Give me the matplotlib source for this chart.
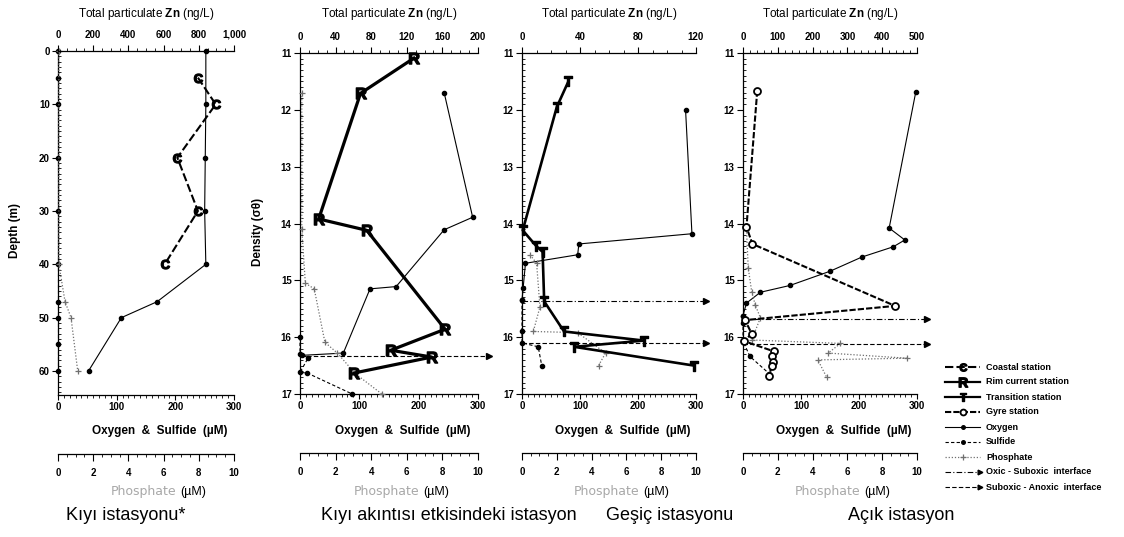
import matplotlib
matplotlib.use("Agg")
import matplotlib.pyplot as plt
from matplotlib.ticker import MultipleLocator, FuncFormatter

plt.rcParams['font.family'] = ['Liberation Sans', 'DejaVu Sans']
plt.rcParams['font.weight'] = 'bold'
plt.rcParams['mathtext.fontset'] = 'custom'
plt.rcParams['mathtext.rm'] = 'Liberation Sans'
plt.rcParams['mathtext.bf'] = 'Liberation Sans:bold'
plt.rcParams['axes.linewidth'] = 0.9

W, H = 1124, 537

# ---- data ----
# Coastal station, y = depth (m)
coastal_zn_depth = [5, 10, 20, 30, 40]
coastal_zn = [795, 896, 678, 795, 606]
coastal_o2_depth = [0, 10, 20, 30, 40, 47, 50, 60]
coastal_o2 = [252, 252, 251, 250, 252, 169, 108, 52]
coastal_h2s_depth = [0, 5, 10, 20, 30, 40, 47, 50, 55, 60]
coastal_h2s = [0, 0, 0, 0, 0, 0, 0, 0, 0, 0]
coastal_po4_depth = [0, 40, 47, 50, 60]
coastal_po4 = [0.05, 0.05, 0.4, 0.74, 1.12]

# Rim current station, y = density (sigma-theta)
rim_zn_dens = [11.09, 11.71, 13.92, 14.12, 15.86, 16.23, 16.35, 16.63]
rim_zn = [128, 68, 21, 75, 163, 102, 148, 61]
rim_o2_dens = [11.70, 13.89, 14.11, 15.11, 15.15, 16.28, 16.32]
rim_o2 = [243, 291, 243, 162, 118, 73, 3]
rim_h2s_dens = [16.0, 16.30, 16.36, 16.62, 16.63, 17.0]
rim_h2s = [0, 0, 14, 0, 12, 88]
rim_po4_dens = [11.7, 14.1, 15.05, 15.15, 16.09, 16.28, 16.64, 17.0]
rim_po4 = [0.1, 0.1, 0.3, 0.8, 1.4, 2.1, 3.1, 4.6]
rim_oxic, rim_anoxic = None, 16.34

# Transition station
trans_zn_dens = [11.50, 11.95, 14.12, 14.39, 14.50, 15.37, 15.90, 16.06, 16.17, 16.50]
trans_zn = [32, 24, 0.5, 9.6, 14.2, 15.3, 29, 84, 36, 118.6]
trans_o2_dens = [12.0, 14.18, 14.36, 14.55, 14.70, 15.13, 15.35]
trans_o2 = [282, 293, 98, 96, 6, 2, 0]
trans_h2s_dens = [15.35, 15.90, 16.10, 16.17, 16.50]
trans_h2s = [0, 0, 0, 28, 34]
trans_po4_dens = [14.55, 14.70, 15.47, 15.90, 15.92, 16.28, 16.50]
trans_po4 = [0.46, 0.84, 1.03, 0.65, 3.2, 4.8, 4.4]
trans_oxic, trans_anoxic = 15.37, 16.10

# Gyre station
gyre_zn_dens = [11.66, 14.06, 14.36, 15.45, 15.70, 15.94, 16.07, 16.25, 16.34, 16.43, 16.51, 16.69]
gyre_zn = [41, 10, 27, 437, 6, 25, 3, 89, 84, 86, 82, 75]
gyre_o2_dens = [11.68, 14.08, 14.29, 14.41, 14.59, 14.84, 15.09, 15.21, 15.40, 15.62]
gyre_o2 = [298, 252, 279, 259, 205, 150, 81, 30, 6, 0]
gyre_h2s_dens = [15.62, 15.75, 16.07, 16.34, 16.64]
gyre_h2s = [0, 0, 0, 12, 45]
gyre_po4_dens = [14.1, 14.78, 15.20, 15.43, 15.66, 16.05, 16.11, 16.28, 16.37, 16.40, 16.70]
gyre_po4 = [0.2, 0.3, 0.5, 0.7, 1.0, 0.5, 5.6, 4.9, 9.4, 4.3, 4.8]
gyre_oxic, gyre_anoxic = 15.68, 16.12

stations = [
    dict(zn=(coastal_zn, coastal_zn_depth), o2=(coastal_o2, coastal_o2_depth),
         h2s=(coastal_h2s, coastal_h2s_depth), po4=(coastal_po4, coastal_po4_depth),
         oxic=None, anoxic=None),
    dict(zn=(rim_zn, rim_zn_dens), o2=(rim_o2, rim_o2_dens),
         h2s=(rim_h2s, rim_h2s_dens), po4=(rim_po4, rim_po4_dens),
         oxic=rim_oxic, anoxic=rim_anoxic),
    dict(zn=(trans_zn, trans_zn_dens), o2=(trans_o2, trans_o2_dens),
         h2s=(trans_h2s, trans_h2s_dens), po4=(trans_po4, trans_po4_dens),
         oxic=trans_oxic, anoxic=trans_anoxic),
    dict(zn=(gyre_zn, gyre_zn_dens), o2=(gyre_o2, gyre_o2_dens),
         h2s=(gyre_h2s, gyre_h2s_dens), po4=(gyre_po4, gyre_po4_dens),
         oxic=gyre_oxic, anoxic=gyre_anoxic),
]

titles = ['Kıyı istasyonu*', 'Kıyı akıntısı etkisindeki istasyon',
          'Geşiç istasyonu', 'Açık istasyon']
station_names = ['Coastal station', 'Rim current station', 'Transition station', 'Gyre station']

# ---- layout / styles ----
layout = [
    dict(box=(58, 51, 234, 395), ylim=(64.5, 0), ymaj=10, ymin=1, znmax=1000, znmaj=200, znmin=50,
         ylabel='Depth (m)', ylab_x=15, title_x=126),
    dict(box=(300, 53, 478, 394), ylim=(17, 11), ymaj=1, ymin=0.1, znmax=200, znmaj=40, znmin=10,
         ylabel='Density (σθ)', ylab_x=258, title_x=449),
    dict(box=(522, 53, 696, 394), ylim=(17, 11), ymaj=1, ymin=0.1, znmax=120, znmaj=40, znmin=10,
         ylabel=None, ylab_x=None, title_x=670),
    dict(box=(743, 53, 917, 394), ylim=(17, 11), ymaj=1, ymin=0.1, znmax=500, znmaj=100, znmin=20,
         ylabel=None, ylab_x=None, title_x=901),
]

zn_styles = [
    dict(color='k', lw=1.5, ls=(0, (4, 1.5)), marker=r'$\mathbf{C}$', ms=6.5),
    dict(color='k', lw=2.3, ls='-', marker=r'$\mathbf{R}$', ms=8),
    dict(color='k', lw=1.9, ls='-', marker=r'$\mathbf{T}$', ms=6.5),
    dict(color='k', lw=1.5, ls=(0, (3, 1)), marker='o', ms=5, mfc='white', mew=1.3),
]
o2_style = dict(color='k', lw=0.8, ls='-', marker='o', ms=3)
h2s_style = dict(color='k', lw=0.8, ls=(0, (3, 2)), marker='o', ms=3)
po4_style = dict(color='#707070', lw=0.9, ls=(0, (1, 1.5)), marker='+', ms=4.5, mew=0.9)
oxic_ls = (0, (5, 2, 1, 2))
anoxic_ls = (0, (4, 2))
ARROW_END = 318


def frect(x0, y0, x1, y1):
    return [x0 / W, 1 - y1 / H, (x1 - x0) / W, (y1 - y0) / H]


def fxy(x, y):
    return x / W, 1 - y / H


fig = plt.figure(figsize=(W / 100, H / 100), dpi=100)
fig.patch.set_facecolor('white')

for lay, st, zst, title in zip(layout, stations, zn_styles, titles):
    x0, y0, x1, y1 = lay['box']
    ax = fig.add_axes(frect(*lay['box']))
    ax_po4 = ax.twiny()
    ax_zn = ax.twiny()

    ax.set_xlim(0, 300)
    ax.set_ylim(*lay['ylim'])
    ax_zn.set_xlim(0, lay['znmax'])
    ax_po4.set_xlim(0, 10)

    for sp in ('top', 'right'):
        ax.spines[sp].set_visible(False)
    for sp in ('bottom', 'left', 'right'):
        ax_zn.spines[sp].set_visible(False)
    for sp in ('top', 'left', 'right'):
        ax_po4.spines[sp].set_visible(False)
    ax_po4.xaxis.tick_bottom()
    ax_po4.spines['bottom'].set_position(('outward', 59 * 0.72))

    # ticks
    ax.xaxis.set_major_locator(MultipleLocator(100))
    ax.xaxis.set_minor_locator(MultipleLocator(10))
    ax.yaxis.set_major_locator(MultipleLocator(lay['ymaj']))
    ax.yaxis.set_minor_locator(MultipleLocator(lay['ymin']))
    ax_zn.xaxis.set_major_locator(MultipleLocator(lay['znmaj']))
    ax_zn.xaxis.set_minor_locator(MultipleLocator(lay['znmin']))
    ax_zn.xaxis.set_major_formatter(FuncFormatter(lambda v, p: f'{v:,.0f}'))
    ax_po4.xaxis.set_major_locator(MultipleLocator(2))
    ax_po4.xaxis.set_minor_locator(MultipleLocator(0.5))

    ax.tick_params(axis='x', which='major', direction='out', length=3.5, width=0.8, labelsize=7, pad=1.5)
    ax.tick_params(axis='x', which='minor', direction='out', length=2, width=0.6)
    ax.tick_params(axis='y', which='major', direction='out', length=4, width=0.8, labelsize=7, pad=2)
    ax.tick_params(axis='y', which='minor', direction='in', length=2, width=0.6)
    ax_zn.tick_params(axis='x', which='major', direction='out', length=4, width=0.8, labelsize=7, pad=4)
    ax_zn.tick_params(axis='x', which='minor', direction='out', length=2, width=0.6)
    ax_po4.tick_params(axis='x', which='major', direction='out', length=5, width=0.8, labelsize=7, pad=5)
    ax_po4.tick_params(axis='x', which='minor', direction='out', length=2.5, width=0.6)

    # data
    ax_po4.plot(st['po4'][0], st['po4'][1], clip_on=False, **po4_style)
    ax.plot(st['h2s'][0], st['h2s'][1], clip_on=False, **h2s_style)
    ax.plot(st['o2'][0], st['o2'][1], clip_on=False, **o2_style)
    ax_zn.plot(st['zn'][0], st['zn'][1], clip_on=False, **zst)

    for dens, ls in ((st['oxic'], oxic_ls), (st['anoxic'], anoxic_ls)):
        if dens is None:
            continue
        ax.plot([0, ARROW_END], [dens, dens], color='k', lw=0.8, ls=ls, clip_on=False)
        ax.plot([ARROW_END], [dens], marker='>', ms=5, color='k', clip_on=False)

    # labels
    cx = (x0 + x1) / 2
    fig.text(*fxy(cx, 14), r'Total particulate $\mathbf{Zn}$ (ng/L)', ha='center', va='center',
             fontsize=8.5, fontweight='normal')
    fig.text(*fxy(cx + 14, 431), 'Oxygen  &  Sulfide  (µM)', ha='center', va='center', fontsize=8.5)
    fig.text(*fxy(cx + 30, 492), 'Phosphate', ha='right', va='center', fontsize=9,
             fontweight='normal', color='#a8a8a8', family='DejaVu Sans')
    fig.text(*fxy(cx + 34, 492), '(µM)', ha='left', va='center', fontsize=9, fontweight='normal')
    if lay['ylabel']:
        fig.text(*fxy(lay['ylab_x'], (y0 + y1) / 2 + 8), lay['ylabel'], ha='center', va='center',
                 rotation=90, fontsize=8.5)
    fig.text(*fxy(lay['title_x'], 515), title, ha='center', va='center', fontsize=13,
             fontweight='normal')

# ---- legend (drawn by hand, pixel coordinates) ----
leg = fig.add_axes(frect(940, 358, 1124, 497))
leg.set_xlim(940, 1124)
leg.set_ylim(497, 358)
leg.axis('off')
entries = [(n, s, 'mid') for n, s in zip(station_names, zn_styles)]
entries += [('Oxygen', o2_style, 'mid'), ('Sulfide', h2s_style, 'mid'),
            ('Phosphate', po4_style, 'mid'),
            ('Oxic - Suboxic  interface', dict(color='k', lw=0.8, ls=oxic_ls, marker='>', ms=4), 'end'),
            ('Suboxic - Anoxic  interface', dict(color='k', lw=0.8, ls=anoxic_ls, marker='>', ms=4), 'end')]
for i, (name, sty, where) in enumerate(entries):
    y = 367 + 15 * i
    line_kw = {k: v for k, v in sty.items() if k not in ('marker', 'ms', 'mfc', 'mew')}
    line_kw['lw'] = min(line_kw['lw'], 1.6)
    leg.plot([945, 980], [y, y], **line_kw)
    mk = {k: v for k, v in sty.items() if k in ('color', 'marker', 'ms', 'mfc', 'mew')}
    mk['ms'] = mk['ms'] * 0.85
    leg.plot([980 if where == 'end' else 963], [y], ls='none', **mk)
    leg.text(986, y, name, va='center', ha='left', fontsize=6.5)

fig.savefig('out.png', dpi=100, facecolor='white')
